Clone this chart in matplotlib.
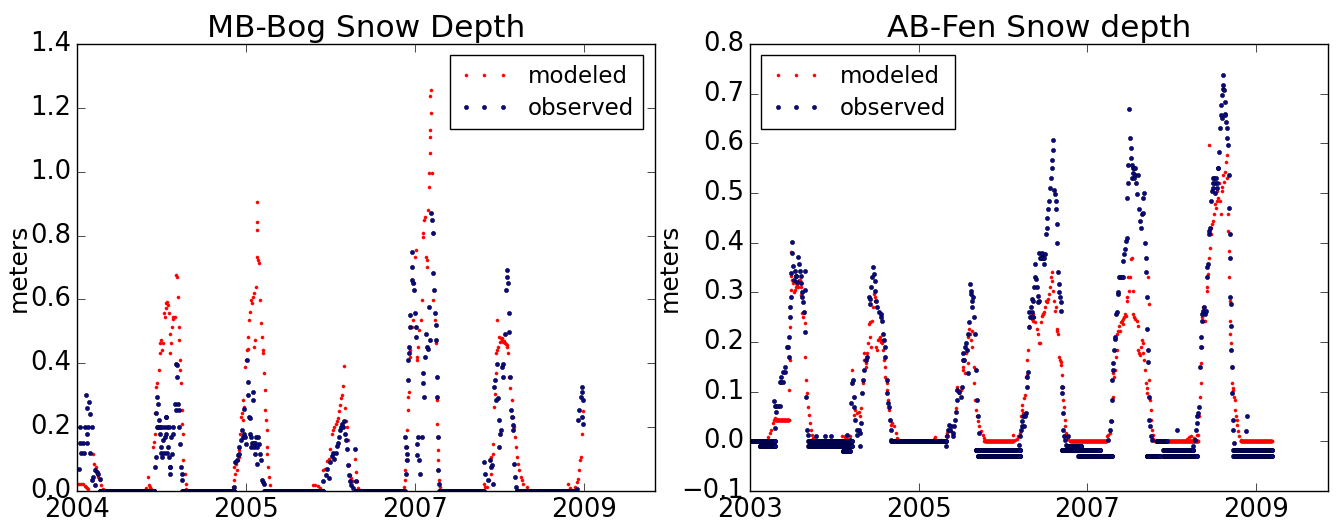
import matplotlib
matplotlib.use("Agg")
import matplotlib.pyplot as plt
import numpy as np

# x values are days since the first tick; y values in meters
mb_ticks = [0, 730, 1461, 2191]
mb_ticklabels = ["2004", "2005", "2007", "2009"]
ab_ticks = [0, 728, 1457, 2187]
ab_ticklabels = ["2003", "2005", "2007", "2009"]

# ---- MB-Bog, modeled ----
mb_mod_pts = [
    (2, 0.023), (9, 0.023), (16, 0.023), (27, 0.021), (35, 0.016), (39, 0.013), (45, 0.008), (49, 0.005),
    (70, 0.117), (75, 0.086), (82, 0.075), (85, 0.054), (92, 0.044), (99, 0.033), (106, 0.018), (113, 0.007),
    (300, 0.01), (307, 0.044), (310, 0.02), (314, 0.013), (321, 0.007), (328, 0.138), (331, 0.154), (336, 0.18),
    (338, 0.243), (343, 0.326), (347, 0.337), (354, 0.378), (357, 0.462), (360, 0.431), (364, 0.473), (369, 0.441),
    (371, 0.462), (374, 0.556), (379, 0.546), (383, 0.572), (386, 0.588), (390, 0.593), (393, 0.582), (397, 0.556),
    (400, 0.493), (404, 0.431), (407, 0.462), (412, 0.514), (414, 0.54), (417, 0.546), (422, 0.546), (429, 0.676),
    (432, 0.671), (436, 0.608), (439, 0.514), (443, 0.473), (446, 0.41), (447, 0.378), (450, 0.337), (453, 0.253),
    (455, 0.211), (457, 0.18), (460, 0.096), (465, 0.054), (469, 0.023), (472, 0.007),
    (673, 0.013), (680, 0.033), (680, 0.075), (684, 0.054), (687, 0.086), (690, 0.065), (694, 0.096), (698, 0.107),
    (701, 0.128), (704, 0.18), (708, 0.232), (713, 0.243), (716, 0.284), (718, 0.222), (723, 0.263), (727, 0.389),
    (730, 0.41), (733, 0.441), (737, 0.446), (741, 0.483), (744, 0.535), (747, 0.561), (751, 0.598), (756, 0.588),
    (759, 0.608), (763, 0.619), (766, 0.452), (770, 0.473), (773, 0.64), (776, 0.818), (777, 0.906), (777, 0.842),
    (780, 0.734), (783, 0.723), (787, 0.713), (790, 0.598), (794, 0.525), (798, 0.483), (802, 0.441), (804, 0.431),
    (809, 0.368), (812, 0.316), (813, 0.253), (816, 0.222), (819, 0.19), (820, 0.138), (823, 0.117), (827, 0.075),
    (830, 0.044), (833, 0.018),
    (1020, 0.02), (1030, 0.02), (1040, 0.015), (1050, 0.01), (1063, 0.065), (1070, 0.07), (1080, 0.095), (1088, 0.1),
    (1095, 0.13), (1100, 0.18), (1106, 0.19), (1112, 0.2), (1118, 0.21), (1123, 0.22), (1128, 0.23), (1133, 0.25),
    (1138, 0.27), (1142, 0.29), (1146, 0.3), (1150, 0.33), (1155, 0.39), (1158, 0.26), (1162, 0.22), (1165, 0.2),
    (1170, 0.16), (1175, 0.08), (1180, 0.05), (1186, 0.04), (1192, 0.03), (1200, 0.1), (1205, 0.06), (1210, 0.03),
    (1215, 0.01),
    (1413, 0.013), (1417, 0.033), (1417, 0.065), (1421, 0.096), (1424, 0.138), (1427, 0.19), (1431, 0.253),
    (1431, 0.295), (1436, 0.31), (1439, 0.42), (1441, 0.441), (1446, 0.514), (1450, 0.535), (1456, 0.65),
    (1460, 0.734), (1465, 0.755), (1467, 0.41), (1470, 0.42), (1475, 0.452), (1479, 0.504), (1485, 0.535),
    (1489, 0.598), (1493, 0.807), (1496, 0.797), (1499, 0.849), (1503, 0.859), (1508, 0.734), (1511, 0.723),
    (1513, 0.703), (1518, 0.88), (1519, 0.953), (1522, 0.995), (1525, 1.058), (1525, 1.11), (1526, 1.131),
    (1528, 1.183), (1525, 1.236), (1528, 1.257), (1532, 0.995), (1537, 0.807), (1539, 0.598), (1547, 0.535),
    (1551, 0.462), (1554, 0.358), (1554, 0.284), (1557, 0.211), (1558, 0.169), (1560, 0.128), (1561, 0.096),
    (1562, 0.065), (1565, 0.033), (1568, 0.013),
    (1758, 0.023), (1763, 0.013), (1770, 0.013), (1781, 0.033), (1787, 0.054), (1791, 0.107), (1796, 0.117),
    (1799, 0.148), (1801, 0.263), (1806, 0.305), (1809, 0.368), (1810, 0.431), (1813, 0.441), (1816, 0.535),
    (1820, 0.452), (1825, 0.483), (1827, 0.467), (1831, 0.478), (1835, 0.473), (1838, 0.478), (1842, 0.467),
    (1845, 0.47), (1849, 0.462), (1852, 0.46), (1856, 0.457), (1860, 0.45), (1863, 0.431), (1868, 0.358),
    (1871, 0.321), (1878, 0.284), (1882, 0.232), (1888, 0.2), (1892, 0.169), (1897, 0.138), (1902, 0.107),
    (1907, 0.086), (1911, 0.065), (1917, 0.044), (1921, 0.033), (1928, 0.023), (1943, 0.013),
    (2123, 0.023), (2130, 0.01), (2151, 0.013), (2159, 0.028), (2166, 0.039), (2170, 0.065), (2173, 0.096),
    (2176, 0.107), (2180, 0.18), (2183, 0.232), (2185, 0.25),
]
mb_mod_flat = [(121, 299, 0.0), (473, 672, 0.0), (834, 1019, 0.0), (1216, 1412, 0.0),
               (1569, 1757, 0.0), (1944, 2122, 0.0)]

# ---- MB-Bog, observed ----
mb_obs_pts = [
    (9, 0.07), (13, 0.2), (13, 0.15), (27, 0.15), (44, 0.15), (16, 0.12), (30, 0.12), (56, 0.12), (39, 0.3),
    (44, 0.26), (53, 0.28), (56, 0.24), (63, 0.2), (44, 0.18), (35, 0.2), (49, 0.2), (70, 0.044), (77, 0.067),
    (85, 0.06), (92, 0.054), (99, 0.038), (63, 0.033), (77, 0.018),
    (336, 0.075), (340, 0.107), (343, 0.243), (346, 0.295), (346, 0.2), (350, 0.274), (350, 0.2), (354, 0.222),
    (357, 0.18), (357, 0.2), (361, 0.138), (361, 0.12), (364, 0.2), (369, 0.107), (371, 0.159), (376, 0.2),
    (376, 0.12), (379, 0.169), (383, 0.232), (383, 0.18), (386, 0.232), (390, 0.2), (390, 0.12), (393, 0.138),
    (397, 0.107), (397, 0.2), (400, 0.075), (404, 0.054), (404, 0.075), (407, 0.169), (412, 0.117), (414, 0.2),
    (417, 0.18), (422, 0.274), (426, 0.253), (429, 0.399), (432, 0.394), (434, 0.358), (437, 0.274), (440, 0.253),
    (443, 0.2), (446, 0.148), (450, 0.075), (452, 0.054), (455, 0.033),
    (680, 0.013), (684, 0.091), (690, 0.096), (694, 0.112), (698, 0.138), (701, 0.117), (708, 0.159), (713, 0.19),
    (716, 0.169), (720, 0.258), (723, 0.18), (727, 0.169), (730, 0.148), (733, 0.41), (737, 0.342), (741, 0.3),
    (744, 0.232), (747, 0.18), (747, 0.23), (751, 0.138), (754, 0.169), (756, 0.15), (759, 0.31), (761, 0.284),
    (763, 0.15), (766, 0.138), (770, 0.117), (770, 0.15), (773, 0.169), (776, 0.086), (780, 0.138), (784, 0.169),
    (787, 0.148), (792, 0.117), (794, 0.096), (798, 0.033), (802, 0.028), (809, 0.023),
    (1063, 0.03), (1075, 0.05), (1080, 0.07), (1088, 0.04), (1093, 0.09), (1100, 0.11), (1106, 0.12), (1112, 0.1),
    (1118, 0.12), (1123, 0.14), (1128, 0.15), (1133, 0.17), (1138, 0.19), (1142, 0.2), (1146, 0.21), (1150, 0.2),
    (1155, 0.22), (1158, 0.18), (1162, 0.16), (1166, 0.13), (1170, 0.08), (1175, 0.05), (1180, 0.03),
    (1186, 0.02), (1192, 0.01), (1200, 0.13), (1204, 0.03),
    (1417, 0.169), (1421, 0.138), (1424, 0.117), (1427, 0.096), (1421, 0.054), (1429, 0.347), (1431, 0.41),
    (1434, 0.431), (1436, 0.452), (1439, 0.551), (1441, 0.514), (1446, 0.661), (1446, 0.703), (1447, 0.75),
    (1453, 0.65), (1456, 0.629), (1460, 0.556), (1463, 0.514), (1466, 0.483), (1470, 0.148), (1470, 0.112),
    (1475, 0.169), (1479, 0.096), (1482, 0.054), (1489, 0.169), (1493, 0.368), (1496, 0.337), (1499, 0.295),
    (1503, 0.42), (1508, 0.493), (1511, 0.452), (1515, 0.446), (1522, 0.577), (1525, 0.473), (1529, 0.87),
    (1532, 0.849), (1537, 0.807), (1539, 0.682), (1542, 0.629), (1547, 0.556), (1551, 0.52), (1551, 0.473),
    (1554, 0.358), (1557, 0.295), (1561, 0.169), (1561, 0.065), (1565, 0.023),
    (1758, 0.091), (1763, 0.054), (1777, 0.033), (1784, 0.096), (1789, 0.075), (1794, 0.08), (1799, 0.023),
    (1801, 0.326), (1806, 0.347), (1810, 0.284), (1813, 0.399), (1817, 0.29), (1822, 0.222), (1825, 0.138),
    (1827, 0.18), (1830, 0.19), (1835, 0.389), (1839, 0.399), (1842, 0.358), (1849, 0.493), (1853, 0.629),
    (1856, 0.692), (1859, 0.671), (1863, 0.65), (1865, 0.556), (1868, 0.499), (1871, 0.358), (1874, 0.253),
    (1878, 0.232), (1882, 0.206), (1885, 0.19), (1888, 0.086), (1892, 0.044), (1899, 0.013),
    (2159, 0.007), (2166, 0.222), (2170, 0.253), (2176, 0.295), (2180, 0.326), (2181, 0.31), (2183, 0.232),
    (2185, 0.284), (2187, 0.211),
]
mb_obs_flat = [(100, 335, 0.0), (456, 679, 0.0), (810, 1062, 0.0), (1205, 1416, 0.0),
               (1566, 1757, 0.0), (1900, 2158, 0.0)]

# ---- AB-Fen, modeled ----
ab_mod_pts = [
    (78, 0.009), (85, 0.016), (92, 0.023), (99, 0.036), (104, 0.043), (107, 0.046), (169, 0.103), (171, 0.164),
    (174, 0.231), (176, 0.305), (176, 0.382), (179, 0.332), (183, 0.325), (186, 0.318), (190, 0.301), (193, 0.305),
    (197, 0.311), (200, 0.318), (205, 0.315), (207, 0.311), (212, 0.325), (215, 0.325), (219, 0.311), (222, 0.295),
    (225, 0.258), (229, 0.251), (233, 0.258), (236, 0.238), (239, 0.17), (243, 0.123), (248, 0.097), (251, 0.07),
    (255, 0.053), (258, 0.036), (262, 0.023), (268, 0.013), (272, 0.006),
    (398, 0.01), (410, 0.008), (412, 0.01), (420, 0.005), (430, 0.01), (434, 0.003), (441, 0.143), (445, 0.123),
    (448, 0.09), (451, 0.053), (455, 0.063), (463, 0.057), (470, 0.06), (477, 0.05), (481, 0.067), (484, 0.097),
    (489, 0.117), (491, 0.163), (494, 0.177), (499, 0.157), (503, 0.15), (506, 0.177), (510, 0.197), (513, 0.237),
    (518, 0.24), (520, 0.21), (523, 0.19), (528, 0.243), (532, 0.27), (535, 0.297), (539, 0.29), (542, 0.283),
    (546, 0.19), (549, 0.183), (552, 0.203), (557, 0.207), (561, 0.21), (564, 0.2), (568, 0.203), (571, 0.197),
    (575, 0.183), (578, 0.163), (581, 0.15), (585, 0.13), (590, 0.117), (593, 0.103), (597, 0.083), (600, 0.063),
    (604, 0.043), (607, 0.033), (614, 0.037), (622, 0.03), (629, 0.017), (636, 0.007), (643, 0.002),
    (794, 0.005), (800, 0.008),
    (824, 0.003), (846, 0.01), (853, 0.017), (867, 0.02), (882, 0.03), (889, 0.067), (893, 0.103), (896, 0.11),
    (903, 0.097), (911, 0.103), (918, 0.15), (922, 0.143), (925, 0.163), (929, 0.137), (932, 0.177), (937, 0.183),
    (940, 0.157), (942, 0.21), (947, 0.227), (951, 0.217), (954, 0.203), (958, 0.223), (961, 0.19), (966, 0.15),
    (968, 0.117), (973, 0.083), (976, 0.063), (980, 0.05), (983, 0.04), (990, 0.03), (997, 0.02), (1005, 0.013),
    (1012, 0.007),
    (1138, 0.013), (1145, 0.003), (1152, 0.005), (1159, 0.01), (1167, 0.017), (1169, 0.05), (1174, 0.073),
    (1177, 0.063), (1181, 0.057), (1184, 0.087), (1188, 0.093), (1193, 0.13), (1195, 0.133), (1198, 0.163),
    (1203, 0.183), (1207, 0.233), (1210, 0.25), (1213, 0.253), (1217, 0.247), (1221, 0.243), (1224, 0.257),
    (1227, 0.25), (1231, 0.24), (1239, 0.227), (1246, 0.217), (1250, 0.198), (1253, 0.197), (1256, 0.24),
    (1260, 0.253), (1265, 0.257), (1267, 0.257), (1272, 0.26), (1275, 0.27), (1279, 0.283), (1282, 0.28),
    (1285, 0.283), (1289, 0.287), (1293, 0.297), (1296, 0.31), (1299, 0.33), (1303, 0.34), (1306, 0.323),
    (1311, 0.303), (1313, 0.283), (1318, 0.263), (1321, 0.27), (1325, 0.227), (1328, 0.223), (1332, 0.217),
    (1337, 0.17), (1339, 0.163), (1342, 0.16), (1345, 0.153), (1348, 0.133), (1351, 0.11), (1354, 0.083),
    (1357, 0.07), (1360, 0.043), (1362, 0.03), (1365, 0.017), (1368, 0.01), (1375, 0.005),
    (1541, 0.01), (1548, 0.013), (1555, 0.017), (1563, 0.04), (1567, 0.09), (1570, 0.137), (1573, 0.13),
    (1577, 0.143), (1581, 0.17), (1584, 0.183), (1587, 0.217), (1591, 0.223), (1596, 0.233), (1599, 0.223),
    (1603, 0.24), (1606, 0.243), (1610, 0.247), (1613, 0.237), (1617, 0.25), (1620, 0.257), (1625, 0.253),
    (1627, 0.283), (1630, 0.29), (1635, 0.33), (1639, 0.303), (1642, 0.33), (1646, 0.367), (1649, 0.37),
    (1653, 0.303), (1656, 0.257), (1661, 0.25), (1665, 0.247), (1671, 0.243), (1675, 0.233), (1678, 0.183),
    (1682, 0.177), (1685, 0.173), (1689, 0.19), (1692, 0.203), (1697, 0.197), (1699, 0.177), (1702, 0.163),
    (1707, 0.143), (1711, 0.117), (1714, 0.107), (1717, 0.097), (1721, 0.33), (1724, 0.277), (1725, 0.123),
    (1728, 0.083), (1731, 0.063), (1734, 0.043), (1737, 0.023), (1740, 0.013), (1743, 0.005),
    (1888, 0.005), (1895, 0.008), (1905, 0.01), (1920, 0.007), (1930, 0.013),
    (1937, 0.013), (1941, 0.05), (1944, 0.09), (1947, 0.117), (1950, 0.157), (1951, 0.19), (1954, 0.25),
    (1959, 0.27), (1961, 0.243), (1966, 0.243), (1970, 0.26), (1973, 0.303), (1976, 0.31), (1980, 0.337),
    (1983, 0.37), (1983, 0.597), (1987, 0.39), (1990, 0.417), (1993, 0.43), (1997, 0.437), (2002, 0.443),
    (2005, 0.457), (2009, 0.477), (2013, 0.47), (2016, 0.483), (2019, 0.503), (2023, 0.49), (2028, 0.52),
    (2031, 0.483), (2033, 0.457), (2038, 0.503), (2041, 0.513), (2045, 0.537), (2048, 0.523), (2052, 0.543),
    (2055, 0.563), (2059, 0.577), (2062, 0.53), (2065, 0.457), (2067, 0.423), (2068, 0.383), (2071, 0.33),
    (2072, 0.283), (2074, 0.243), (2075, 0.217), (2077, 0.197), (2078, 0.183), (2081, 0.15), (2084, 0.117),
    (2087, 0.107), (2088, 0.103), (2091, 0.09), (2094, 0.083), (2097, 0.063), (2100, 0.05), (2103, 0.043),
    (2105, 0.033), (2110, 0.02), (2114, 0.01), (2120, 0.003),
]
ab_mod_flat = [(0, 77, 0.0), (110, 168, 0.043), (273, 397, 0.0), (643, 845, 0.0), (1013, 1137, 0.0),
               (1383, 1540, 0.0), (1750, 1935, 0.0), (2120, 2254, 0.0)]

# ---- AB-Fen, observed ----
ab_obs_pts = [
    (107, 0.026), (107, 0.071), (114, 0.071), (121, 0.071), (104, 0.081), (114, 0.06), (128, 0.071),
    (128, 0.119), (135, 0.13), (135, 0.119), (143, 0.14), (143, 0.119), (150, 0.15), (153, 0.14), (161, 0.19),
    (164, 0.19), (167, 0.211), (169, 0.17), (171, 0.251), (174, 0.271), (176, 0.291), (179, 0.338), (181, 0.402),
    (183, 0.379), (186, 0.352), (190, 0.325), (193, 0.342), (197, 0.332), (200, 0.332), (205, 0.321),
    (207, 0.372), (210, 0.358), (215, 0.342), (219, 0.332), (222, 0.318), (225, 0.291), (226, 0.301),
    (229, 0.281), (233, 0.261), (236, 0.342), (236, 0.305), (239, 0.221), (243, 0.09), (248, 0.023),
    (251, 0.013), (287, 0.01), (323, 0.01), (351, 0.01),
    (419, 0.013), (431, 0.003), (437, 0.077), (441, 0.117), (445, 0.123), (448, 0.09), (451, 0.07), (455, 0.043),
    (460, 0.023), (463, 0.013), (470, 0.023), (474, 0.017), (477, -0.01), (481, 0.037), (484, 0.097),
    (489, 0.123), (491, 0.143), (499, 0.163), (506, 0.17), (513, 0.29), (518, 0.277), (520, 0.287), (523, 0.31),
    (528, 0.33), (530, 0.35), (535, 0.337), (538, 0.323), (542, 0.303), (546, 0.283), (549, 0.27), (557, 0.26),
    (564, 0.257), (567, 0.25), (571, 0.243), (575, 0.217), (578, 0.203), (581, 0.19), (585, 0.17), (590, 0.123),
    (593, 0.097), (597, 0.077), (600, 0.07), (604, 0.043), (607, 0.023), (611, 0.003),
    (846, -0.01), (853, 0.01), (856, 0.023), (860, 0.033), (864, 0.023), (867, 0.03), (875, 0.017), (879, 0.01),
    (882, 0.03), (885, 0.043), (889, 0.06), (893, 0.083), (896, 0.103), (903, 0.1), (911, 0.09), (915, 0.11),
    (918, 0.163), (922, 0.177), (925, 0.163), (929, 0.19), (932, 0.197), (937, 0.183), (940, 0.137),
    (942, 0.217), (947, 0.24), (950, 0.317), (953, 0.303), (954, 0.297), (958, 0.283), (961, 0.27), (964, 0.29),
    (968, 0.25), (971, 0.217), (976, 0.143), (980, 0.083), (983, 0.05), (990, 0.017),
    (1164, -0.007), (1167, 0.01), (1169, 0.023), (1174, 0.03), (1177, 0.04), (1181, 0.05), (1185, 0.03),
    (1188, 0.05), (1193, 0.057), (1195, 0.11), (1198, 0.13), (1203, 0.14), (1205, 0.23), (1207, 0.26),
    (1210, 0.25), (1213, 0.27), (1217, 0.287), (1220, 0.26), (1221, 0.25), (1224, 0.283), (1227, 0.31),
    (1230, 0.33), (1233, 0.357), (1236, 0.327), (1239, 0.31), (1243, 0.293), (1246, 0.28), (1249, 0.283),
    (1250, 0.38), (1253, 0.37), (1255, 0.37), (1260, 0.377), (1262, 0.38), (1265, 0.37), (1267, 0.37),
    (1270, 0.37), (1272, 0.357), (1275, 0.377), (1279, 0.417), (1282, 0.43), (1285, 0.45), (1289, 0.467),
    (1293, 0.483), (1296, 0.51), (1299, 0.53), (1303, 0.55), (1306, 0.567), (1308, 0.587), (1311, 0.607),
    (1313, 0.507), (1318, 0.497), (1321, 0.483), (1322, 0.467), (1325, 0.437), (1328, 0.4), (1331, 0.34),
    (1334, 0.317), (1337, 0.3), (1339, 0.29), (1342, 0.28), (1344, 0.263), (1347, 0.11), (1349, 0.097),
    (1351, 0.057), (1354, 0.023), (1357, 0.01), (1361, 0.003), (1365, -0.007), (1371, -0.01), (1375, 0.01),
    (1548, 0.003), (1555, 0.023), (1560, 0.04), (1563, 0.083), (1565, 0.123), (1567, 0.143), (1570, 0.157),
    (1573, 0.183), (1576, 0.207), (1577, 0.21), (1581, 0.257), (1584, 0.26), (1589, 0.297), (1591, 0.3),
    (1596, 0.33), (1599, 0.33), (1606, 0.33), (1610, 0.33), (1613, 0.363), (1616, 0.377), (1620, 0.387),
    (1625, 0.403), (1627, 0.41), (1630, 0.49), (1633, 0.52), (1635, 0.557), (1639, 0.669), (1642, 0.61),
    (1645, 0.59), (1646, 0.57), (1649, 0.557), (1650, 0.53), (1653, 0.55), (1656, 0.54), (1659, 0.53),
    (1660, 0.55), (1663, 0.537), (1665, 0.55), (1668, 0.52), (1671, 0.497), (1678, 0.537), (1682, 0.467),
    (1685, 0.443), (1688, 0.43), (1692, 0.457), (1697, 0.46), (1699, 0.49), (1702, 0.5), (1707, 0.4),
    (1709, 0.37), (1711, 0.34), (1714, 0.29), (1717, 0.227), (1720, 0.183), (1721, 0.16), (1724, 0.09),
    (1725, 0.043), (1728, 0.03), (1731, 0.01), (1735, 0.003), (1843, 0.022),
    (1915, -0.01), (1923, 0.003), (1927, 0.023), (1930, 0.037), (1933, 0.05), (1937, 0.057), (1941, 0.07),
    (1944, 0.15), (1947, 0.19), (1950, 0.21), (1951, 0.243), (1954, 0.257), (1959, 0.263), (1961, 0.27),
    (1966, 0.257), (1970, 0.263), (1973, 0.33), (1976, 0.35), (1979, 0.357), (1982, 0.417), (1985, 0.423),
    (1987, 0.43), (1990, 0.483), (1995, 0.503), (1999, 0.51), (2000, 0.53), (2002, 0.52), (2005, 0.53),
    (2009, 0.52), (2010, 0.5), (2013, 0.53), (2016, 0.51), (2019, 0.52), (2020, 0.55), (2023, 0.55),
    (2028, 0.583), (2031, 0.63), (2033, 0.657), (2036, 0.677), (2039, 0.697), (2040, 0.65), (2042, 0.717),
    (2045, 0.737), (2045, 0.71), (2048, 0.707), (2050, 0.66), (2051, 0.683), (2054, 0.657), (2057, 0.643),
    (2059, 0.63), (2062, 0.61), (2065, 0.597), (2068, 0.537), (2071, 0.47), (2072, 0.417), (2074, 0.37),
    (2075, 0.29), (2077, 0.277), (2078, 0.233), (2080, 0.183), (2081, 0.15), (2082, 0.097), (2085, 0.043),
    (2088, 0.023), (2091, -0.003), (2143, 0.02), (2146, 0.05),
]
ab_obs_flat = [(0, 107, 0.0), (42, 107, -0.01), (252, 440, 0.0), (252, 440, -0.01), (400, 431, -0.02),
               (611, 846, 0.0), (976, 1168, -0.018), (985, 1168, -0.029), (1375, 1430, -0.009),
               (1347, 1512, -0.018), (1419, 1563, -0.029), (1714, 1771, -0.029), (1757, 1800, 0.0),
               (1786, 1915, -0.018), (1786, 1930, -0.029), (2088, 2254, -0.018), (2088, 2254, -0.029)]


def expand(points, flats):
    days = [p[0] for p in points]
    vals = [p[1] for p in points]
    for d0, d1, v in flats:
        for d in range(d0, d1 + 1):
            days.append(d)
            vals.append(v)
    return np.array(days), np.array(vals)


plt.style.use("classic")
plt.rcParams["font.family"] = "DejaVu Sans"

fig = plt.figure(figsize=(13.36, 5.21), dpi=100, facecolor="white")
ax1 = fig.add_axes([0.0576, 0.0576, 0.4326, 0.858])
ax2 = fig.add_axes([0.5614, 0.0576, 0.4326, 0.858])

obs_color = "#0a0a80"

panels = [
    (ax1, mb_mod_pts, mb_mod_flat, mb_obs_pts, mb_obs_flat, "MB-Bog Snow Depth",
     mb_ticks, mb_ticklabels, (0, 1.4), np.arange(0, 1.41, 0.2), "upper right"),
    (ax2, ab_mod_pts, ab_mod_flat, ab_obs_pts, ab_obs_flat, "AB-Fen Snow depth",
     ab_ticks, ab_ticklabels, (-0.1, 0.8), np.arange(-0.1, 0.81, 0.1), "upper left"),
]

for ax, mp, mf, op, of, title, ticks, labels, ylim, yticks, loc in panels:
    md, mv = expand(mp, mf)
    od, ov = expand(op, of)
    ax.plot(md, mv, ".", color="red", markersize=4.5, markeredgewidth=0.3, label="modeled")
    ax.plot(od, ov, ".", color=obs_color, markeredgecolor="#000040", markersize=6,
            markeredgewidth=0.4, label="observed")
    ax.set_xlim(0, 2497)
    ax.set_ylim(*ylim)
    ax.set_xticks(ticks)
    ax.set_xticklabels(labels)
    ax.set_yticks(yticks)
    ax.tick_params(labelsize=18.5, direction="in", length=6)
    ax.set_ylabel("meters", fontsize=18, labelpad=0)
    ax.set_title(title, fontsize=22.5)
    ax.legend(loc=loc, numpoints=3, fontsize=16.5, handlelength=2.2, labelspacing=0.4)

fig.savefig("out.png", dpi=100, facecolor="white")
